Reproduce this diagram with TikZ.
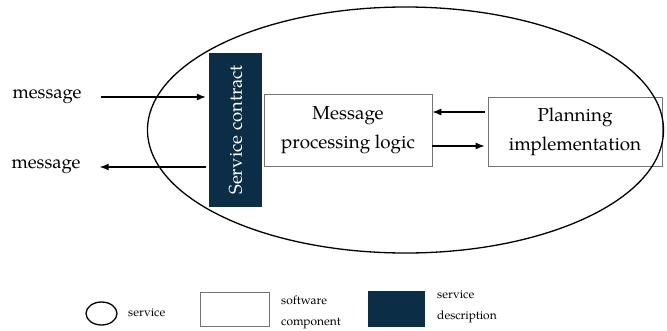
\documentclass[tikz,border=0pt]{standalone}
\usepackage{fontspec}
\setmainfont{TeX Gyre Pagella}
\usetikzlibrary{arrows.meta,shapes.geometric}
\definecolor{navy}{HTML}{0B2D45}
\begin{document}
\begin{tikzpicture}[x=1pt,y=-1pt,
  arr/.style={line width=1.2pt,-{Latex[length=9pt,width=7pt]}},
  comp/.style={draw=black!55,line width=0.7pt,inner sep=0pt,align=center,
    font=\fontsize{18.8}{29}\selectfont},
  desc/.style={fill=navy,inner sep=0pt},
  lbl/.style={inner sep=0pt,font=\fontsize{18.5}{20}\selectfont},
  leg/.style={inner sep=0pt,align=left,anchor=west,font=\fontsize{12}{21}\selectfont}]
\useasboundingbox (0,0) rectangle (667,330);

% software components
\node (proc) [comp,minimum width=168,minimum height=72] at (348,130) {Message\\processing logic};
\node (plan) [comp,minimum width=174,minimum height=69] at (575,131.5) {Planning\\implementation};

% the service
\node (svc) [draw,line width=1.3pt,ellipse,inner sep=0pt,minimum width=516,minimum height=246] at (405.5,130) {};

% service contract
\node (contract) [desc,minimum width=53,minimum height=154] at (235.5,130) {};
\node [rotate=90,text=white,font=\fontsize{18.5}{20}\selectfont] at (contract.center) {Service contract};

% external messages
\node (msgin) [lbl] at (47,97) {message};
\node (msgout) [lbl] at (46,167) {message};

\draw[arr,shorten >=3pt] ([xshift=19pt]msgin.east) -- (contract.west |- msgin);
\draw[arr,shorten <=3pt] (contract.west |- msgout) -- ([xshift=19pt]msgout.east);
\draw[arr,shorten <=3pt] (plan.west |- 0,112) -- (proc.east |- 0,112);
\draw[arr,shorten >=3pt] (proc.east |- 0,146) -- (plan.west |- 0,146);

% legend
\node (legsvc) [draw,line width=1.3pt,ellipse,inner sep=0pt,minimum width=31,minimum height=23] at (101.5,313.5) {};
\node [leg] at (128,313) {service};
\node (legcomp) [draw=black!55,line width=0.7pt,inner sep=0pt,minimum width=69,minimum height=34] at (234.5,309) {};
\node [leg] at (281,312) {software\\component};
\node (legdesc) [desc,minimum width=57,minimum height=36] at (396.5,309) {};
\node [leg] at (437,307) {service\\description};
\end{tikzpicture}
\end{document}
